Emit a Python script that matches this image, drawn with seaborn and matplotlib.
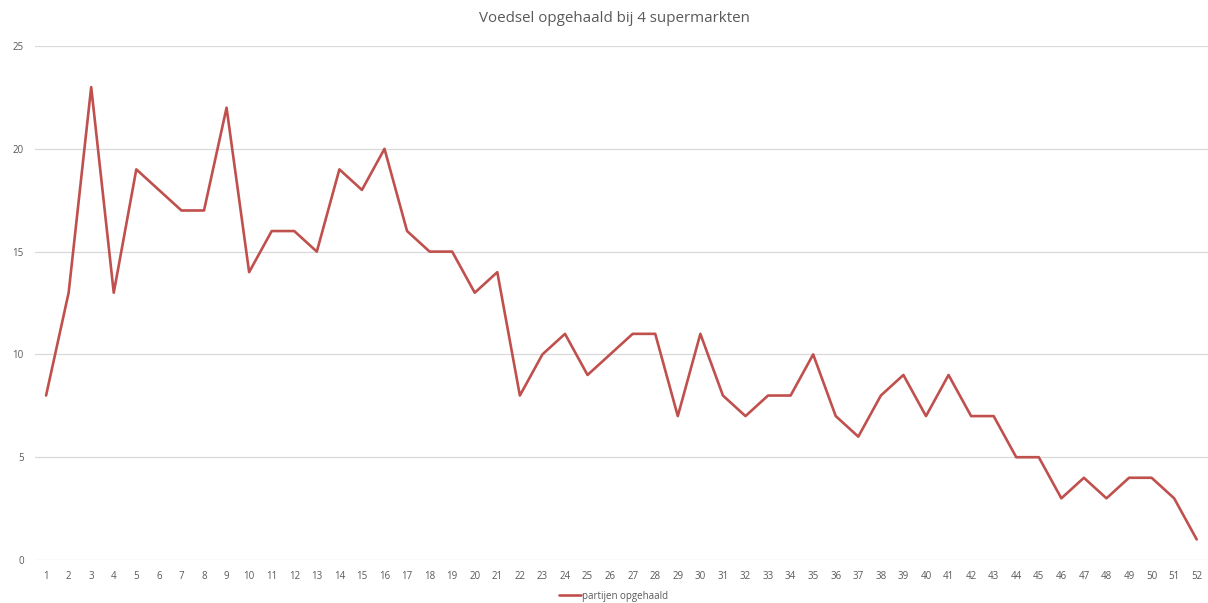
import matplotlib
matplotlib.use("Agg")
import matplotlib.pyplot as plt
import seaborn as sns
import pandas as pd

# --- data ---
weeks = list(range(1, 53))
partijen = [8, 13, 23, 13, 19, 18, 17, 17, 22, 14,
            16, 16, 15, 19, 18, 20, 16, 15, 15, 13,
            14, 8, 10, 11, 9, 10, 11, 11, 7, 11,
            8, 7, 8, 8, 10, 7, 6, 8, 9, 7,
            9, 7, 7, 5, 5, 3, 4, 3, 4, 4,
            3, 1]
yticks = [0, 5, 10, 15, 20, 25]

df = pd.DataFrame({"week": weeks, "partijen opgehaald": partijen})

sns.set_style("white")
plt.rcParams["font.family"] = ["Open Sans", "DejaVu Sans"]

fig = plt.figure(figsize=(12.08, 6.03), dpi=100)
ax = fig.add_axes([0.0288, 0.0713, 0.9712, 0.8524])

sns.lineplot(data=df, x="week", y="partijen opgehaald", color="#C0504D",
             linewidth=1.9, ax=ax, label="partijen opgehaald")

ax.set_xlim(0.5, 52.5)
ax.set_ylim(0, 25)
ax.set_xticks(weeks)
ax.set_xticklabels([str(w) for w in weeks])
ax.set_yticks(yticks)
ax.yaxis.grid(True, color="#D9D9D9", linewidth=0.9)
ax.tick_params(axis="both", labelsize=7, colors="#595959", length=0, pad=8)
for s in ax.spines.values():
    s.set_visible(False)
ax.set_xlabel("")
ax.set_ylabel("")

fig.suptitle("Voedsel opgehaald bij 4 supermarkten", x=0.509, y=0.982,
             fontsize=10.9, color="#595959")

ax.get_legend().remove()
fig.legend(loc="center", bbox_to_anchor=(0.508, 0.011), frameon=False,
           fontsize=7, labelcolor="#595959", handlelength=2.2, handletextpad=0.1)

fig.savefig("out.png", dpi=100)
